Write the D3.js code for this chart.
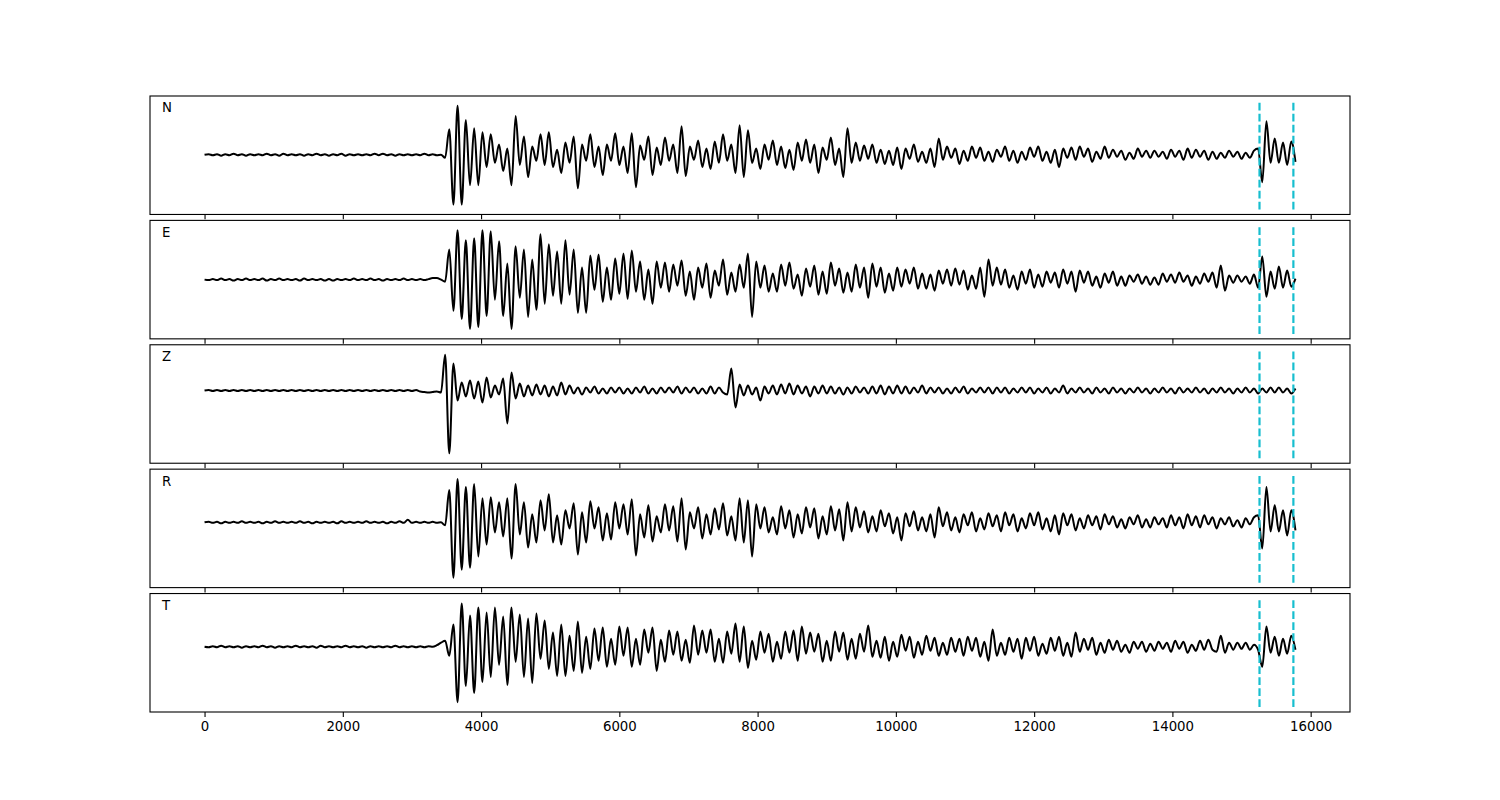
<!DOCTYPE html>
<html>
<head>
<meta charset="utf-8">
<script src="https://cdn.jsdelivr.net/npm/d3@7"></script>
<style>
  body { margin: 0; background: #fff; }
  svg { display: block; }
  text { font-family: "DejaVu Sans", sans-serif; }
</style>
</head>
<body>
<script>
// sample spacing of the traces (x units)
const sampleStep = 60;
const channels = ["N", "E", "Z", "R", "T"];
const xTicks = [0, 2000, 4000, 6000, 8000, 10000, 12000, 14000, 16000];
const picks = [15260, 15750];

// amplitudes, one value per sample
const traceN = [
  0,0.5,-0.5,0.5,-1,0.5,-0.5,1,-0.5,0.5, -1,0.5,-0.5,0.5,-0.5,1,-0.5,0.5,-1,1,
  -0.5,0.5,-0.5,0.5,-1,0.5,-0.5,1,-0.5,0.5, -1,0.5,-0.5,1,-1,0.5,-0.5,0.5,-0.5,0.5,
  -0.5,1,-0.5,1,-0.5,0.5,-1,0.5,-0.5,0.5, -0.5,0.5,-0.5,1,-0.5,0.5,-0.5,0,
  -3, 25,-49,48,-49,34,-30,26,-30,22,
  -12,20,-8,10,-16,6,-30,38,-10,18, -22,8,-6,20,-10,22,-12,5,-18,12,
  -8,18,-33,10,-6,20,-12,8,-20,10, -6,21,-10,8,-18,21,-32,9,-5,18,
  -20,7,-10,17,-6,10,-18,28,-21,8, -5,14,-12,6,-14,13,-8,20,-6,10,
  -18,29,-22,24,-8,6,-14,10,-5,14, -10,8,-13,5,-15,12,-6,15,-8,10,
  -18,7,-5,17,-10,6,-22,26,-8,12, -6,9,-4,10,-8,5,-9,4,-10,7,
  -14,6,-4,10,-7,3,-8,6,-12,16, -5,8,-3,6,-9,4,-6,8,-3,7,
  -6,3,-7,5,-2,8,-6,4,-8,3, -5,7,-2,8,-6,3,-8,5,-12,6,
  -3,7,-5,8,-2,6,-7,3,-4,8, -3,5,-2,4,-5,2,-4,6,-2,4,
  -3,4,-2,3,-4,5,-2,4,-5,6, -3,5,-2,4,-5,3,-4,2,-3,4,
  -2,3,-4,2,-3,4,6,-27,33,-8, 16,-8,12,-10,13,-7
];
const traceE = [
  0,-0.5,0.5,-0.5,1,-0.5,0.5,-1,0.5,-0.5, 1,-0.5,0.5,-0.5,1,-1,0.5,-0.5,1,-0.5,
  0.5,-0.5,0.5,-1,1,-0.5,0.5,-0.5,0.5,-1, 0.5,-1,0.5,-0.5,0.5,-0.5,1,-0.5,0.5,-0.5,
  1,-0.5,0.5,-1,0.5,-0.5,0.5,-0.5,1,-0.5, 0.5,-0.5,0.5,-0.5,0.5,1.5,1.5,0,
  -2, 30,-31,49,-39,39,-49,41,-47,49,
  -36,48,-20,38,-36,16,-49,33,-18,30, -37,20,-30,45,-24,35,-16,28,-24,39,
  -15,30,-33,12,-33,24,-10,25,-22,12, -20,21,-14,26,-19,29,-12,18,-20,10,
  -24,18,-8,17,-12,15,-6,19,-16,8, -20,12,-8,16,-18,9,-6,20,-15,7,
  -12,15,-8,26,-37,18,-8,14,-12,6, -12,15,-6,17,-9,5,-16,11,-7,14,
  -15,8,-14,17,-6,11,-13,7,-12,15, -8,12,-18,16,-7,12,-13,6,-11,12,
  -7,10,-4,12,-9,6,-9,5,-11,9, -4,10,-6,11,-5,9,-10,4,-9,12,
  -17,20,-6,12,-5,10,-8,4,-10,8, -4,10,-8,5,-7,8,-3,7,-8,10,
  -4,8,-12,9,-3,8,-6,3,-8,6, -3,8,-6,3,-6,4,-2,5,-4,3,
  -5,2,-5,6,-2,5,-3,7,-2,4, -6,3,-4,6,-2,7,-8,14,-11,4,
  -3,4,-2,3,-4,5,-8,23,-17,8, -9,13,-8,9,-7,1
];
const traceZ = [
  0,0.5,-0.5,0.5,-0.5,0.5,-0.5,0.5,-0.5,0.5, -0.5,0.5,-0.5,0.5,-0.5,0.5,-0.5,0.5,-0.5,0.5,
  -0.5,0.5,-0.5,0.5,-0.5,0.5,-0.5,0.5,-0.5,0.5, -0.5,0.5,-0.5,0.5,-0.5,0.5,-0.5,0.5,-0.5,0.5,
  -0.5,0.5,-0.5,0.5,-0.5,0.5,-0.5,0.5,-0.5,0.5, -0.5,0.5,-1,-1.5,-2,-1.5,-1,-2,
  36, -63,27,-10,8,-6,10,-8,9,-12,
  13,-7,5,-4,12,-33,18,-8,7,-6, 5,-5,6,-4,5,-6,4,-5,8,-4,
  5,-3,3,-4,3,-2,4,-3,2,-3, 3,-2,3,-3,2,-3,3,-2,4,-3,
  2,-3,3,-2,3,-2,4,-3,3,-2, 3,-3,2,-3,4,-3,3,-2,-4,22,
  -17,6,-5,5,-4,3,-10,4,-3,5, -4,6,-3,7,-4,5,-3,4,-6,4,
  -3,5,-3,4,-3,3,-4,3,-3,4, -2,3,-3,4,-3,5,-4,4,-3,5,
  -3,4,-3,3,-2,5,-3,3,-2,3, -3,2,-3,3,-2,4,-3,2,-2,3,
  -2,3,-3,3,-2,3,-3,2,-2,3, -2,3,-3,2,-2,3,-3,2,-2,5,
  -3,2,-2,3,-2,2,-3,3,-2,2, -3,3,-2,2,-3,2,-2,3,-2,2,
  -3,2,-2,3,-2,2,-3,3,-2,2, -2,3,-2,2,-3,2,-2,3,-2,2,
  -3,2,-2,3,-2,2,-3,2,-2,3, -2,3,-2,2,-3,2
];
const traceR = [
  0,0.5,-0.5,0.5,-1,0.5,-0.5,0.5,-0.5,1, -0.5,0.5,-0.5,0.5,-1,0.5,-0.5,1,-0.5,0.5,
  -0.5,0.5,-0.5,1,-0.5,0.5,-1,0.5,-0.5,0.5, -0.5,0.5,-1,1,-0.5,0.5,-0.5,0.5,-0.5,1,
  -0.5,0.5,-0.5,0.5,-1,0.5,-0.5,1,-0.5,2.5, -0.5,0.5,-0.5,0.5,-0.5,0.5,-0.5,0,
  -3, 32,-55,43,-47,35,-45,38,-34,24,
  -22,25,-10,20,-14,24,-36,38,-12,20, -25,8,-20,22,-8,28,-20,7,-22,12,
  -6,19,-32,10,-20,21,-6,15,-18,9, -17,20,-6,18,-12,23,-33,8,-15,17,
  -19,6,-10,18,-8,16,-19,24,-27,10, -6,15,-16,8,-12,14,-7,19,-13,6,
  -18,24,-20,22,-34,18,-6,15,-10,5, -12,16,-6,12,-15,8,-11,15,-5,14,
  -16,6,-12,16,-8,13,-18,20,-9,15, -5,11,-10,6,-9,12,-4,9,-11,5,
  -18,9,-4,11,-8,5,-9,8,-15,15, -4,10,-8,5,-10,8,-3,10,-9,4,
  -7,9,-4,7,-9,10,-3,8,-9,4, -6,9,-3,10,-7,4,-9,7,-12,9,
  -3,8,-8,4,-6,7,-3,6,-7,8, -2,6,-5,3,-6,5,-2,7,-5,3,
  -5,5,-2,4,-5,7,-3,5,-6,8, -3,6,-5,7,-2,5,-6,4,-2,5,
  -4,2,-5,4,-2,5,7,-26,35,-9, 17,-9,12,-13,12,-8
];
const traceT = [
  0,-0.5,0.5,-0.5,1,-0.5,0.5,-0.5,0.5,-1, 0.5,-0.5,0.5,-0.5,1,-0.5,0.5,-1,0.5,-0.5,
  0.5,-0.5,1,-0.5,0.5,-0.5,0.5,-1,1,-0.5, 0.5,-0.5,0.5,-0.5,1,-0.5,0.5,-0.5,0.5,-1,
  0.5,-0.5,0.5,-0.5,0.5,-0.5,1,-0.5,0.5,-0.5, 0.5,-0.5,0.5,-0.5,0.5,0,1.5,4,
  6, -9,22,-55,43,-39,31,-46,39,-35,
  34,-30,39,-18,30,-38,39,-15,32,-30, 28,-36,33,-12,26,-22,14,-29,22,-29,
  11,-24,25,-26,10,-22,18,-14,19,-20, 8,-18,20,-9,19,-20,8,-18,17,-6,
  19,-24,7,-15,16,-8,15,-14,7,-16, 21,-8,16,-6,17,-15,8,-16,15,-7,
  23,-15,20,-21,6,-13,15,-6,13,-15, 5,-12,15,-6,16,-14,20,-7,14,-5,
  13,-15,6,-14,15,-5,14,-13,8,-12, 13,-5,21,-10,6,-11,10,-14,5,-10,
  12,-4,10,-11,5,-8,11,-4,9,-9, 4,-8,9,-5,8,-9,10,-4,9,-10,
  5,-14,17,-9,4,-8,9,-5,8,-12, 9,-4,10,-9,3,-7,9,-4,10,-9,
  4,-10,14,-5,8,-3,9,-8,4,-6, 7,-3,6,-5,2,-6,5,-2,5,-5,
  3,-4,5,-2,4,-5,6,-2,5,-6, 2,-4,6,-3,7,-3,-5,11,-6,4,
  -3,4,-2,4,-3,2,-3,-20,20,-6, 10,-9,8,-7,11,-3
];
const traces = [traceN, traceE, traceZ, traceR, traceT];

const width = 1500, height = 800;
const plotLeft = 150, plotRight = 1350, plotTop = 96, plotBottom = 712;
const hspace = 0.05;
const panelH = (plotBottom - plotTop) / (channels.length + hspace * (channels.length - 1));
const gap = panelH * hspace;

const svg = d3.select("body").append("svg")
  .attr("width", width)
  .attr("height", height);

const xMax = (traceN.length - 1) * sampleStep;
const pad = xMax * 0.05;
const x = d3.scaleLinear().domain([-pad, xMax + pad]).range([plotLeft, plotRight]);

channels.forEach((ch, k) => {
  const data = traces[k];
  const y0 = plotTop + k * (panelH + gap);
  const [lo, hi] = d3.extent(data);
  const span = hi - lo;
  const y = d3.scaleLinear()
    .domain([lo - 0.1 * span, hi + 0.1 * span])
    .range([y0 + panelH, y0]);

  const g = svg.append("g");

  const line = d3.line()
    .x((d, i) => x(i * sampleStep))
    .y(d => y(d))
    .curve(d3.curveMonotoneX);

  g.append("path")
    .datum(data)
    .attr("fill", "none")
    .attr("stroke", "#000")
    .attr("stroke-width", 2)
    .attr("stroke-linejoin", "round")
    .attr("d", line);

  g.selectAll("line.pick")
    .data(picks)
    .enter()
    .append("line")
    .attr("class", "pick")
    .attr("x1", d => x(d))
    .attr("x2", d => x(d))
    .attr("y1", y(lo - 0.05 * span))
    .attr("y2", y(hi + 0.05 * span))
    .attr("stroke", "#17becf")
    .attr("stroke-width", 2.2)
    .attr("stroke-dasharray", "7.7,3.3");

  // frame
  g.append("rect")
    .attr("x", plotLeft)
    .attr("y", y0)
    .attr("width", plotRight - plotLeft)
    .attr("height", panelH)
    .attr("fill", "none")
    .attr("stroke", "#000")
    .attr("stroke-width", 1.1);

  const last = k === channels.length - 1;
  const axis = d3.axisBottom(x)
    .tickValues(xTicks)
    .tickSize(4.9)
    .tickPadding(4.9)
    .tickFormat(last ? d3.format("d") : () => "");

  const ax = g.append("g")
    .attr("transform", `translate(0,${y0 + panelH})`)
    .call(axis);
  ax.select(".domain").remove();
  ax.selectAll(".tick line").attr("stroke", "#000").attr("stroke-width", 1.1);
  ax.selectAll(".tick text")
    .attr("fill", "#000")
    .style("font-size", "13.3px")
    .style("font-family", "DejaVu Sans, sans-serif");

  g.append("text")
    .attr("x", plotLeft + 0.01 * (plotRight - plotLeft))
    .attr("y", y0 + 0.1 * panelH)
    .attr("dominant-baseline", "central")
    .style("font-size", "13.3px")
    .text(ch);
});
</script>
</body>
</html>
